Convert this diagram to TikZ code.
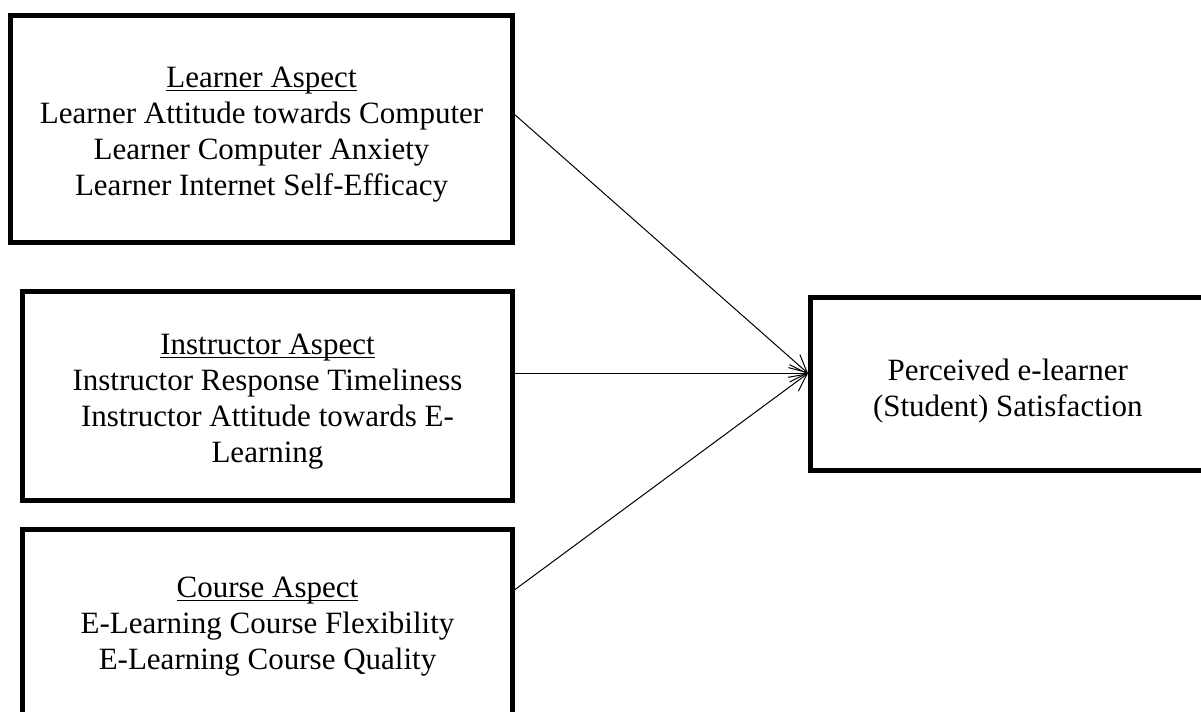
\documentclass[tikz,border=0pt]{standalone}
\usepackage{fontspec}
\setmainfont{Liberation Serif}
\usetikzlibrary{arrows.meta,calc}
\newcommand\myul[1]{\leavevmode\setbox0\hbox{#1}\rlap{\rule[-3pt]{\wd0}{0.9pt}}\box0}
\newcommand\topstrut[1]{\rule{0pt}{#1}}
\begin{document}
\begin{tikzpicture}[x=0.75pt,y=-0.75pt,
  box/.style={draw=black,line width=3.75pt,align=center,inner sep=0pt,
    font=\fontsize{23.25pt}{27pt}\selectfont},
  arr/.style={line width=0.75pt,-{Straight Barb[length=13pt,width=13pt,line width=0.75pt]}}]
\useasboundingbox (0,0) rectangle (1201,711);
\node[box,minimum width=376.5pt,minimum height=169.9pt] (b1) at (261.5,128.75)
  {\topstrut{24pt}\myul{Learner Aspect}\\Learner Attitude towards Computer\\Learner Computer Anxiety\\Learner Internet Self-Efficacy};
\node[box,minimum width=367.5pt,minimum height=156.75pt] (b2) at (267.5,395.5)
  {\topstrut{24pt}\myul{Instructor Aspect}\\Instructor Response Timeliness\\Instructor Attitude towards E-\\Learning};
\node[box,minimum width=367.5pt,minimum height=139.5pt] (b3) at (267.5,622)
  {\topstrut{21.5pt}\myul{Course Aspect}\\E-Learning Course Flexibility\\E-Learning Course Quality};
\node[box,minimum width=295.9pt,minimum height=129.75pt] (b4) at (1007.75,384)
  {\topstrut{26pt}Perceived e-learner\\(Student) Satisfaction};
\coordinate (t) at ($(b4.north west)!0.44!(b4.south west)$);
\draw[arr] ($(b1.north east)!0.44!(b1.south east)$) -- (t);
\draw[arr] (b2.east |- t) -- (t);
\draw[arr] ($(b3.north east)!0.33!(b3.south east)$) -- (t);
\end{tikzpicture}
\end{document}
